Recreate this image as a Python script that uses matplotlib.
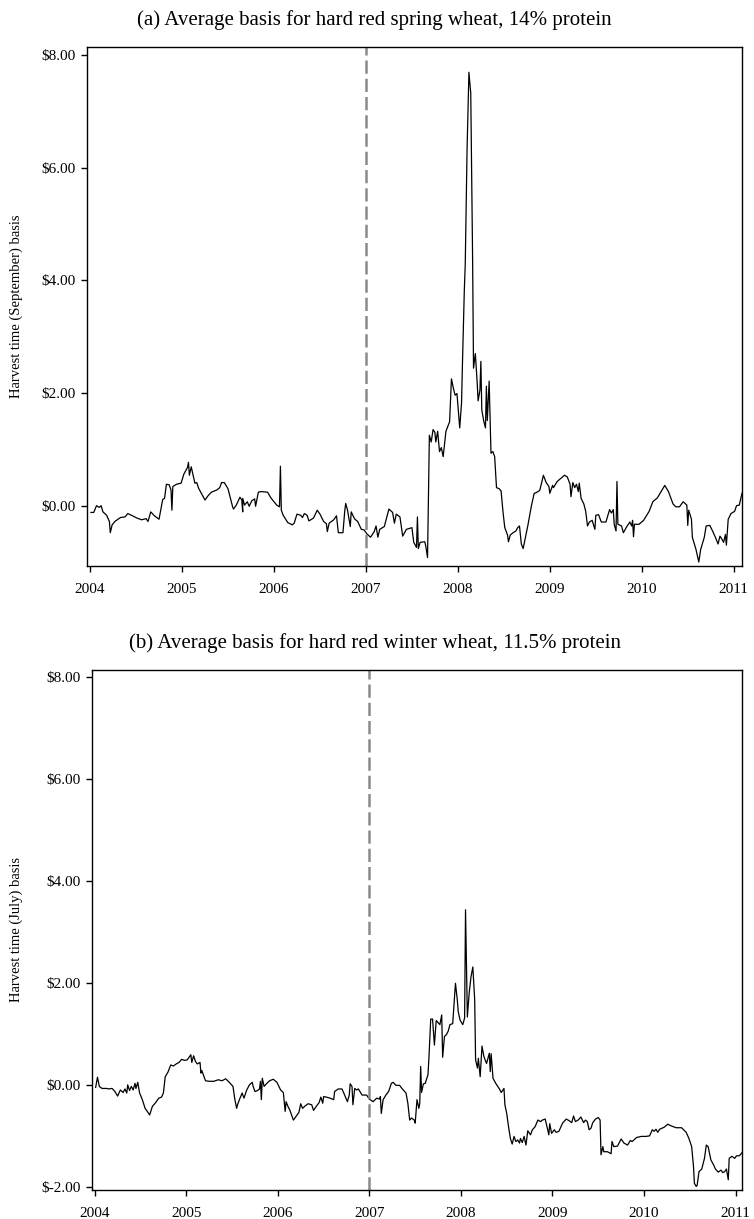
import numpy as np
from matplotlib import pyplot as plt
from matplotlib.ticker import FuncFormatter

plt.rcParams['font.family'] = ['Liberation Serif', 'DejaVu Serif']

# (a) hard red spring wheat, 14% protein -- decimal year, basis ($)
springYears = [
    2004.01, 2004.04, 2004.07, 2004.10, 2004.12, 2004.14, 2004.18, 2004.21, 2004.22, 2004.24,
    2004.27, 2004.33, 2004.38, 2004.41, 2004.45, 2004.51, 2004.56, 2004.61, 2004.63, 2004.66,
    2004.70, 2004.75, 2004.79, 2004.81, 2004.83, 2004.86, 2004.88, 2004.89, 2004.90, 2004.94,
    2004.99, 2005.02, 2005.06, 2005.07, 2005.08, 2005.10, 2005.14, 2005.16, 2005.18, 2005.21,
    2005.25, 2005.28, 2005.32, 2005.38, 2005.41, 2005.43, 2005.46, 2005.50, 2005.55, 2005.56,
    2005.59, 2005.63, 2005.65, 2005.66, 2005.66, 2005.68, 2005.71, 2005.73, 2005.76, 2005.79,
    2005.80, 2005.83, 2005.86, 2005.93, 2005.97, 2006.03, 2006.06, 2006.07, 2006.08, 2006.10,
    2006.15, 2006.20, 2006.22, 2006.25, 2006.29, 2006.31, 2006.33, 2006.36, 2006.38, 2006.43,
    2006.47, 2006.50, 2006.54, 2006.57, 2006.58, 2006.60, 2006.65, 2006.68, 2006.70, 2006.75,
    2006.77, 2006.78, 2006.80, 2006.83, 2006.84, 2006.86, 2006.88, 2006.91, 2006.95, 2006.98,
    2007.01, 2007.05, 2007.09, 2007.11, 2007.13, 2007.15, 2007.20, 2007.25, 2007.29, 2007.31,
    2007.33, 2007.37, 2007.40, 2007.44, 2007.50, 2007.52, 2007.55, 2007.56, 2007.57, 2007.59,
    2007.64, 2007.65, 2007.67, 2007.69, 2007.71, 2007.73, 2007.75, 2007.76, 2007.78, 2007.80,
    2007.82, 2007.84, 2007.87, 2007.91, 2007.93, 2007.95, 2007.97, 2007.99, 2008.02, 2008.04,
    2008.05, 2008.07, 2008.08, 2008.10, 2008.12, 2008.14, 2008.16, 2008.17, 2008.19, 2008.21,
    2008.22, 2008.24, 2008.25, 2008.26, 2008.28, 2008.30, 2008.31, 2008.32, 2008.34, 2008.36,
    2008.38, 2008.40, 2008.42, 2008.45, 2008.47, 2008.49, 2008.51, 2008.53, 2008.54, 2008.55,
    2008.57, 2008.60, 2008.63, 2008.65, 2008.67, 2008.69, 2008.71, 2008.74, 2008.76, 2008.80,
    2008.83, 2008.85, 2008.89, 2008.91, 2008.93, 2008.96, 2008.99, 2009.00, 2009.03, 2009.04,
    2009.08, 2009.16, 2009.19, 2009.22, 2009.23, 2009.25, 2009.27, 2009.29, 2009.31, 2009.32,
    2009.34, 2009.37, 2009.39, 2009.41, 2009.43, 2009.46, 2009.49, 2009.50, 2009.53, 2009.56,
    2009.61, 2009.65, 2009.67, 2009.69, 2009.70, 2009.72, 2009.73, 2009.74, 2009.78, 2009.80,
    2009.83, 2009.87, 2009.89, 2009.90, 2009.91, 2009.92, 2009.97, 2010.02, 2010.08, 2010.12,
    2010.17, 2010.21, 2010.25, 2010.29, 2010.34, 2010.37, 2010.41, 2010.45, 2010.47, 2010.49,
    2010.50, 2010.51, 2010.54, 2010.55, 2010.59, 2010.62, 2010.64, 2010.68, 2010.70, 2010.74,
    2010.77, 2010.80, 2010.83, 2010.85, 2010.87, 2010.89, 2010.91, 2010.92, 2010.94, 2010.97,
    2011.01, 2011.03, 2011.06, 2011.09,
]
springBasis = [
    -0.12, -0.12, 0.00, -0.03, 0.00, -0.11, -0.17, -0.28, -0.48, -0.34,
    -0.28, -0.21, -0.20, -0.14, -0.17, -0.22, -0.25, -0.23, -0.28, -0.11,
    -0.18, -0.24, 0.11, 0.13, 0.38, 0.37, 0.28, -0.08, 0.34, 0.38,
    0.40, 0.56, 0.68, 0.77, 0.54, 0.69, 0.40, 0.41, 0.31, 0.22,
    0.10, 0.17, 0.24, 0.28, 0.32, 0.41, 0.41, 0.30, -0.02, -0.06,
    0.01, 0.15, 0.10, -0.11, 0.13, 0.01, 0.07, -0.01, 0.09, 0.12,
    -0.01, 0.24, 0.25, 0.24, 0.13, 0.01, -0.02, 0.70, -0.08, -0.17,
    -0.30, -0.34, -0.31, -0.15, -0.17, -0.21, -0.14, -0.17, -0.27, -0.22,
    -0.08, -0.15, -0.28, -0.32, -0.46, -0.31, -0.25, -0.18, -0.48, -0.48,
    -0.09, 0.04, -0.08, -0.37, -0.11, -0.18, -0.24, -0.28, -0.42, -0.43,
    -0.50, -0.56, -0.46, -0.36, -0.56, -0.42, -0.37, -0.06, -0.12, -0.31,
    -0.15, -0.20, -0.54, -0.42, -0.39, -0.65, -0.74, -0.20, -0.76, -0.65,
    -0.64, -0.71, -0.92, 1.25, 1.13, 1.35, 1.30, 1.13, 1.32, 0.96,
    1.03, 0.87, 1.32, 1.49, 2.25, 2.09, 1.96, 1.99, 1.38, 1.83,
    2.54, 3.82, 4.27, 6.33, 7.69, 7.32, 4.40, 2.44, 2.70, 2.18,
    1.86, 2.05, 2.56, 1.70, 1.51, 1.38, 2.12, 1.51, 2.21, 0.93,
    0.96, 0.87, 0.32, 0.30, 0.26, -0.10, -0.39, -0.48, -0.52, -0.64,
    -0.52, -0.48, -0.45, -0.39, -0.36, -0.68, -0.76, -0.52, -0.36, 0.00,
    0.22, 0.23, 0.27, 0.40, 0.54, 0.41, 0.34, 0.22, 0.36, 0.32,
    0.43, 0.54, 0.51, 0.38, 0.16, 0.41, 0.32, 0.38, 0.25, 0.40,
    0.13, 0.03, -0.10, -0.36, -0.29, -0.26, -0.42, -0.17, -0.16, -0.29,
    -0.29, -0.07, -0.13, -0.07, -0.33, -0.45, 0.43, -0.33, -0.36, -0.48,
    -0.39, -0.29, -0.36, -0.26, -0.55, -0.33, -0.33, -0.26, -0.10, 0.07,
    0.14, 0.25, 0.36, 0.25, 0.03, -0.02, -0.02, 0.07, 0.04, 0.01,
    -0.35, -0.08, -0.24, -0.56, -0.78, -1.00, -0.78, -0.56, -0.36, -0.35,
    -0.45, -0.56, -0.68, -0.54, -0.59, -0.65, -0.51, -0.70, -0.24, -0.14,
    -0.10, 0.00, 0.01, 0.22,
]

# (b) hard red winter wheat, 11.5% protein
winterYears = [
    2004.01, 2004.03, 2004.05, 2004.08, 2004.13, 2004.15, 2004.19, 2004.22, 2004.25, 2004.28,
    2004.31, 2004.33, 2004.35, 2004.36, 2004.38, 2004.40, 2004.42, 2004.44, 2004.45, 2004.47,
    2004.49, 2004.52, 2004.55, 2004.57, 2004.60, 2004.63, 2004.66, 2004.70, 2004.73, 2004.75,
    2004.77, 2004.80, 2004.83, 2004.86, 2004.89, 2004.92, 2004.95, 2004.98, 2005.01, 2005.03,
    2005.05, 2005.06, 2005.08, 2005.10, 2005.12, 2005.15, 2005.16, 2005.17, 2005.21, 2005.25,
    2005.30, 2005.35, 2005.39, 2005.43, 2005.48, 2005.51, 2005.53, 2005.55, 2005.56, 2005.58,
    2005.61, 2005.63, 2005.66, 2005.69, 2005.72, 2005.73, 2005.75, 2005.78, 2005.80, 2005.81,
    2005.82, 2005.83, 2005.85, 2005.88, 2005.91, 2005.95, 2005.99, 2006.03, 2006.06, 2006.08,
    2006.09, 2006.11, 2006.13, 2006.17, 2006.21, 2006.23, 2006.25, 2006.27, 2006.30, 2006.33,
    2006.37, 2006.39, 2006.42, 2006.45, 2006.47, 2006.49, 2006.50, 2006.53, 2006.57, 2006.61,
    2006.62, 2006.66, 2006.70, 2006.72, 2006.76, 2006.78, 2006.79, 2006.81, 2006.82, 2006.84,
    2006.86, 2006.88, 2006.92, 2006.97, 2007.00, 2007.04, 2007.08, 2007.11, 2007.12, 2007.13,
    2007.15, 2007.18, 2007.21, 2007.24, 2007.26, 2007.29, 2007.33, 2007.36, 2007.40, 2007.42,
    2007.44, 2007.46, 2007.49, 2007.50, 2007.52, 2007.54, 2007.55, 2007.56, 2007.57, 2007.59,
    2007.61, 2007.64, 2007.65, 2007.67, 2007.69, 2007.71, 2007.73, 2007.75, 2007.77, 2007.79,
    2007.80, 2007.82, 2007.84, 2007.86, 2007.88, 2007.91, 2007.94, 2007.96, 2007.97, 2007.99,
    2008.02, 2008.04, 2008.05, 2008.07, 2008.09, 2008.11, 2008.13, 2008.15, 2008.16, 2008.18,
    2008.19, 2008.21, 2008.23, 2008.25, 2008.27, 2008.28, 2008.31, 2008.32, 2008.33, 2008.35,
    2008.38, 2008.42, 2008.44, 2008.47, 2008.48, 2008.50, 2008.52, 2008.54, 2008.56, 2008.58,
    2008.60, 2008.62, 2008.64, 2008.65, 2008.67, 2008.69, 2008.71, 2008.73, 2008.76, 2008.78,
    2008.81, 2008.84, 2008.87, 2008.89, 2008.92, 2008.94, 2008.96, 2008.97, 2008.99, 2009.02,
    2009.04, 2009.07, 2009.11, 2009.15, 2009.18, 2009.21, 2009.23, 2009.25, 2009.28, 2009.31,
    2009.34, 2009.36, 2009.38, 2009.40, 2009.42, 2009.44, 2009.47, 2009.50, 2009.52, 2009.53,
    2009.55, 2009.56, 2009.60, 2009.64, 2009.65, 2009.67, 2009.71, 2009.75, 2009.78, 2009.82,
    2009.85, 2009.87, 2009.92, 2009.97, 2010.02, 2010.06, 2010.09, 2010.11, 2010.13, 2010.15,
    2010.17, 2010.22, 2010.26, 2010.29, 2010.35, 2010.41, 2010.46, 2010.49, 2010.52, 2010.54,
    2010.55, 2010.57, 2010.58, 2010.60, 2010.63, 2010.66, 2010.68, 2010.70, 2010.73, 2010.76,
    2010.78, 2010.81, 2010.84, 2010.86, 2010.88, 2010.90, 2010.92, 2010.93, 2010.96, 2010.99,
    2011.01, 2011.04, 2011.07,
]
winterBasis = [
    -0.05, 0.15, -0.03, -0.07, -0.07, -0.08, -0.07, -0.13, -0.22, -0.10,
    -0.15, -0.08, -0.16, 0.00, -0.11, -0.03, -0.10, 0.03, -0.07, 0.05,
    -0.16, -0.29, -0.46, -0.51, -0.59, -0.42, -0.36, -0.26, -0.24, -0.16,
    0.16, 0.25, 0.39, 0.37, 0.41, 0.44, 0.50, 0.48, 0.49, 0.54,
    0.59, 0.44, 0.57, 0.46, 0.41, 0.44, 0.23, 0.28, 0.08, 0.07,
    0.07, 0.10, 0.08, 0.12, 0.03, -0.03, -0.28, -0.46, -0.39, -0.29,
    -0.16, -0.26, -0.10, 0.00, 0.05, -0.03, -0.13, -0.11, -0.08, 0.07,
    -0.29, 0.13, -0.03, 0.03, 0.08, 0.11, 0.05, -0.10, -0.15, -0.52,
    -0.33, -0.42, -0.49, -0.69, -0.59, -0.54, -0.37, -0.46, -0.41, -0.37,
    -0.39, -0.50, -0.42, -0.35, -0.24, -0.36, -0.23, -0.24, -0.26, -0.29,
    -0.13, -0.08, -0.08, -0.16, -0.33, -0.20, 0.02, -0.03, -0.39, -0.07,
    -0.10, -0.08, -0.20, -0.20, -0.28, -0.33, -0.26, -0.28, -0.23, -0.56,
    -0.29, -0.20, -0.13, 0.03, 0.05, -0.01, -0.01, -0.08, -0.16, -0.36,
    -0.69, -0.65, -0.69, -0.75, -0.29, -0.46, -0.37, 0.36, -0.15, 0.02,
    0.03, 0.20, 0.52, 1.29, 1.29, 0.78, 1.26, 1.22, 1.18, 1.37,
    0.54, 0.95, 0.98, 1.05, 1.18, 1.20, 1.99, 1.67, 1.44, 1.27,
    1.18, 1.31, 3.43, 1.33, 1.80, 2.12, 2.31, 1.67, 0.49, 0.33,
    0.52, 0.16, 0.76, 0.56, 0.46, 0.42, 0.62, 0.26, 0.61, 0.13,
    0.03, -0.08, -0.15, -0.07, -0.39, -0.56, -0.82, -1.05, -1.16, -1.01,
    -1.11, -1.08, -1.14, -1.05, -1.13, -1.01, -1.18, -0.90, -0.98, -0.88,
    -0.82, -0.69, -0.72, -0.69, -0.67, -0.82, -0.98, -0.76, -0.95, -0.88,
    -0.93, -0.91, -0.75, -0.67, -0.70, -0.74, -0.61, -0.72, -0.69, -0.63,
    -0.74, -0.69, -0.72, -0.88, -0.85, -0.74, -0.67, -0.64, -0.69, -1.37,
    -1.21, -1.31, -1.31, -1.35, -1.11, -1.21, -1.20, -1.06, -1.14, -1.18,
    -1.09, -1.11, -1.03, -1.01, -1.01, -1.00, -0.88, -0.91, -0.87, -0.93,
    -0.87, -0.83, -0.77, -0.80, -0.84, -0.84, -0.93, -1.05, -1.21, -1.60,
    -1.93, -1.99, -1.97, -1.70, -1.65, -1.44, -1.18, -1.21, -1.47, -1.57,
    -1.65, -1.71, -1.67, -1.72, -1.70, -1.65, -1.86, -1.44, -1.40, -1.44,
    -1.39, -1.39, -1.33,
]

yearTicks = [2004, 2005, 2006, 2007, 2008, 2009, 2010, 2011]
springYTicks = [0, 2, 4, 6, 8]
winterYTicks = [-2, 0, 2, 4, 6, 8]
eventYear = 2007.0

panels = [
    dict(x=springYears, y=springBasis, yticks=springYTicks, ylim=(-1.07, 8.14),
         rect=[0.1158, 0.5357, 0.8683, 0.4258], title_y=0.9836, label_x=-0.098,
         title='(a) Average basis for hard red spring wheat, 14% protein',
         ylabel='Harvest time (September) basis', xlim=(2003.97, 2011.09)),
    dict(x=winterYears, y=winterBasis, yticks=winterYTicks, ylim=(-2.06, 8.13),
         rect=[0.1220, 0.0238, 0.8621, 0.4266], title_y=0.4725, label_x=-0.106,
         title='(b) Average basis for hard red winter wheat, 11.5% protein',
         ylabel='Harvest time (July) basis', xlim=(2003.97, 2011.07)),
]

fig = plt.figure(figsize=(7.54, 12.19), dpi=100)

for p in panels:
    ax = fig.add_axes(p['rect'])
    ax.plot(p['x'], p['y'], color='black', lw=0.9)
    ax.axvline(eventYear, color='#8a8a8a', lw=1.8, linestyle=(0, (5.3, 2.0)))
    ax.set_xlim(*p['xlim'])
    ax.set_ylim(*p['ylim'])
    ax.set_xticks(yearTicks)
    ax.set_xticklabels([str(t) for t in yearTicks])
    ax.set_yticks(p['yticks'])
    ax.yaxis.set_major_formatter(FuncFormatter(lambda v, pos: '\\$%.2f' % v))
    ax.tick_params(direction='out', length=4.6, width=1.0, labelsize=11)
    ax.tick_params(axis='x', pad=7.5)
    ax.tick_params(axis='y', pad=3.5)
    for s in ax.spines.values():
        s.set_linewidth(1.0)
    ax.set_ylabel(p['ylabel'], fontsize=10.5)
    ax.yaxis.set_label_coords(p['label_x'], 0.5)
    fig.text(0.497, p['title_y'], p['title'], ha='center', va='center', fontsize=15)

plt.savefig('out.png', dpi=100)
